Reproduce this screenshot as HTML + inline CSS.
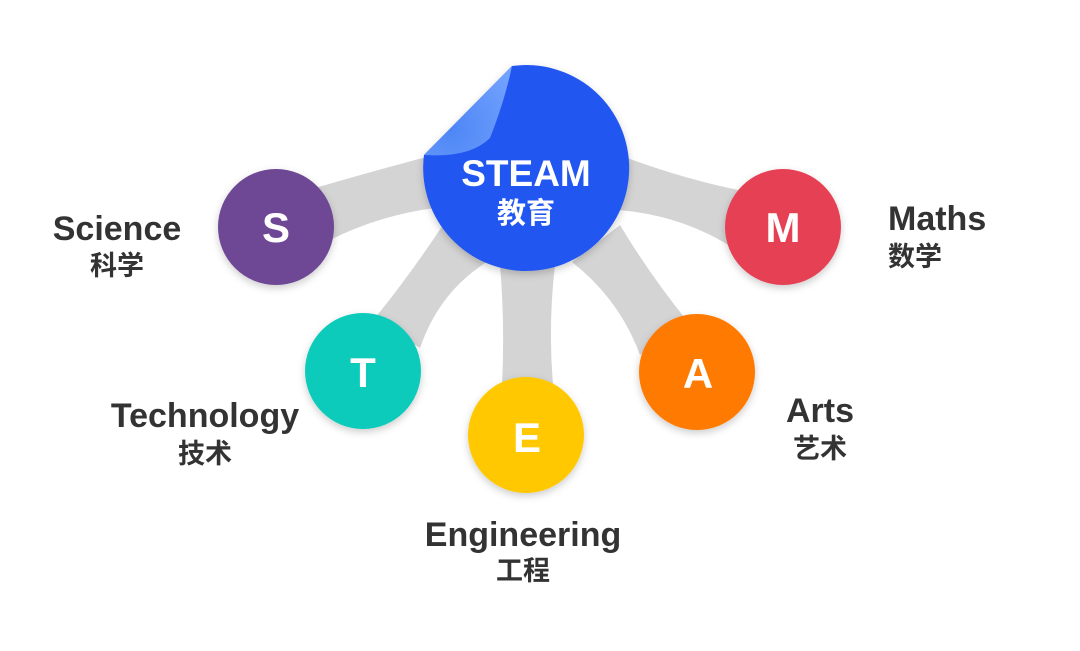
<!DOCTYPE html>
<html><head><meta charset="utf-8"><style>
html,body{margin:0;padding:0;background:#fff;}
body{width:1080px;height:651px;position:relative;overflow:hidden;}
svg{position:absolute;left:0;top:0;}
.t{font-family:"Liberation Sans","Noto Sans CJK SC",sans-serif;font-weight:bold;fill:#333;}
.w{font-family:"Liberation Sans","Noto Sans CJK SC",sans-serif;font-weight:bold;fill:#fff;}
</style></head><body>
<svg width="1080" height="651" viewBox="0 0 1080 651">
<defs>
<radialGradient id="cg" cx="0.3" cy="0.7" r="0.9"><stop offset="0" stop-color="#4d86f5"/><stop offset="1" stop-color="#74a3ff"/></radialGradient>
<filter id="sh" x="-20%" y="-20%" width="140%" height="140%"><feDropShadow dx="0" dy="3" stdDeviation="4" flood-color="#000" flood-opacity="0.2"/></filter>
</defs>
<g fill="#d4d4d4">
<path d="M430,156 Q370,172 315,188 L330,240 Q380,215 435,208 Z"/>
<path d="M622,156 Q680,178 738,190 L730,246 Q680,215 618,210 Z"/>
<path d="M445,222 Q410,275 375,318 L420,348 Q440,290 490,260 Z"/>
<path d="M500,265 Q505,325 502,385 L553,385 Q548,325 555,265 Z"/>
<path d="M572,262 Q620,300 640,355 L688,322 Q650,275 620,225 Z"/>
</g>
<g filter="url(#sh)">
<circle cx="276" cy="227" r="58" fill="#6e4695"/>
<circle cx="783" cy="227" r="58" fill="#e64155"/>
<circle cx="363" cy="371" r="58" fill="#0fcbbb"/>
<circle cx="526" cy="435" r="58" fill="#ffc800"/>
<circle cx="697" cy="372" r="58" fill="#ff7a00"/>
<path d="M512,66 A103,103 0 1 1 424,155 Z" fill="#2456f0"/>
</g>
<path d="M512,66 Q505,100 490,138 Q470,158 424,155 Z" fill="url(#cg)"/>
<text class="w" x="526" y="186" font-size="37" text-anchor="middle">STEAM</text>
<text class="w" x="526" y="223" font-size="29" text-anchor="middle">教育</text>
<text class="w" x="276" y="242" font-size="42" text-anchor="middle">S</text>
<text class="w" x="783" y="242" font-size="42" text-anchor="middle">M</text>
<text class="w" x="363" y="387" font-size="42" text-anchor="middle">T</text>
<text class="w" x="527" y="452" font-size="42" text-anchor="middle">E</text>
<text class="w" x="698" y="388" font-size="42" text-anchor="middle">A</text>
<text class="t" x="117" y="240" font-size="34" text-anchor="middle">Science</text>
<text class="t" x="117" y="275" font-size="27" text-anchor="middle">科学</text>
<text class="t" x="888" y="230" font-size="34">Maths</text>
<text class="t" x="888" y="266" font-size="27">数学</text>
<text class="t" x="205" y="427" font-size="34" text-anchor="middle">Technology</text>
<text class="t" x="205" y="463" font-size="27" text-anchor="middle">技术</text>
<text class="t" x="820" y="422" font-size="34" text-anchor="middle">Arts</text>
<text class="t" x="820" y="458" font-size="27" text-anchor="middle">艺术</text>
<text class="t" x="523" y="546" font-size="34" text-anchor="middle">Engineering</text>
<text class="t" x="523" y="580" font-size="27" text-anchor="middle">工程</text>
</svg>
</body></html>
